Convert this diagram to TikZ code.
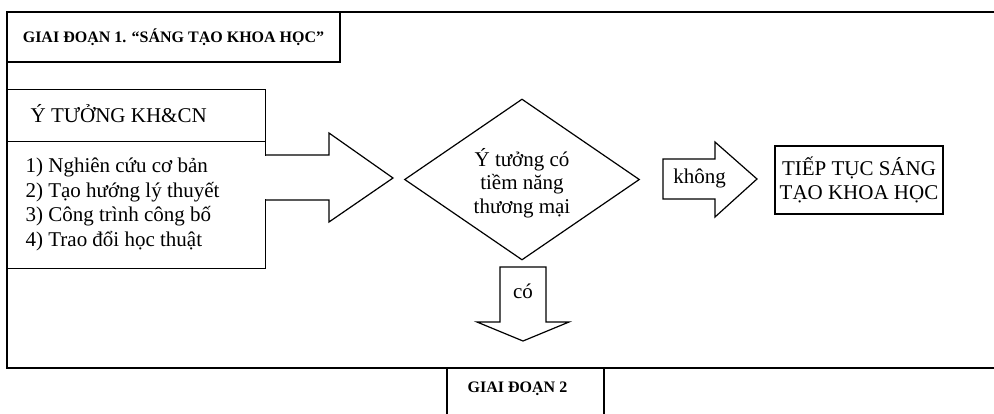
\documentclass[tikz,border=0pt]{standalone}
\usepackage{fontspec}
\setmainfont{Liberation Serif}
\usetikzlibrary{shapes.geometric}
\begin{document}
\begin{tikzpicture}[x=1pt,y=-1pt,line width=1.2pt,line join=miter,
  body/.style={font=\fontsize{21}{24.5}\selectfont},
  ttl/.style={font=\fontsize{16}{18}\selectfont\bfseries},
  boxed/.style={draw,rectangle,inner sep=0pt},
  blockarrow/.style={draw,fill=white}]
\useasboundingbox (0,0) rectangle (994,413);
% outer frame of stage 1 (open to the right)
\draw (994,12) -- (7,12) -- (7,368) -- (994,368);
% title
\node[boxed,ttl,minimum width=333pt,minimum height=50pt] (t1) at (173.5,37) {GIAI ĐOẠN 1. “SÁNG TẠO KHOA HỌC”};
% idea box
\node[boxed,body,minimum width=258pt,minimum height=52pt,anchor=north west] (head) at (7,89) {};
\node[body,anchor=west,inner sep=0pt] (headtxt) at (30,114) {Ý TƯỞNG KH\&CN};
\node[boxed,minimum width=258pt,minimum height=127pt,anchor=north west] (list) at (7,141) {};
\node[body,anchor=west,align=left,inner sep=0pt] (listtxt) at (25,204.5)
  {1) Nghiên cứu cơ bản\\2) Tạo hướng lý thuyết\\3) Công trình công bố\\4) Trao đổi học thuật};
% block arrow to diamond
\fill[white] (262,155.6) rectangle (267,199.4);
\draw (list.east |- 0,155) -- (329,155) -- (329,133) -- (393,178) -- (329,222) -- (329,200) -- (list.east |- 0,200);
% diamond
\node[draw,diamond,minimum width=235pt,minimum height=161pt,inner sep=0pt] (dia) at (522,179.5) {};
\node[body,align=center,inner sep=0pt,font=\fontsize{21}{23.5}\selectfont] (diatxt) at (522,183) {Ý tưởng có\\tiềm năng\\thương mại};
% "không" arrow
\draw[blockarrow] (663,159) -- (715,159) -- (715,142) -- (757,179) -- (715,217) -- (715,199) -- (663,199) -- cycle;
\node[body,inner sep=0pt] (khong) at (699.5,178) {không};
% continue box
\node[boxed,body,align=center,minimum width=168pt,minimum height=68pt] (cont) at (859,180) {TIẾP TỤC SÁNG\\TẠO KHOA HỌC};
% "có" arrow
\draw[blockarrow] (500,267) -- (546,267) -- (546,322) -- (569,322) -- (523,341) -- (477,322) -- (500,322) -- cycle;
\node[body,inner sep=0pt] (co) at (523,291) {có};
% stage 2 box
\draw (447,420) -- (447,368) -- (604,368) -- (604,420);
\node[ttl,inner sep=0pt] (t2) at (517.5,389) {GIAI ĐOẠN 2};
\end{tikzpicture}
\end{document}
